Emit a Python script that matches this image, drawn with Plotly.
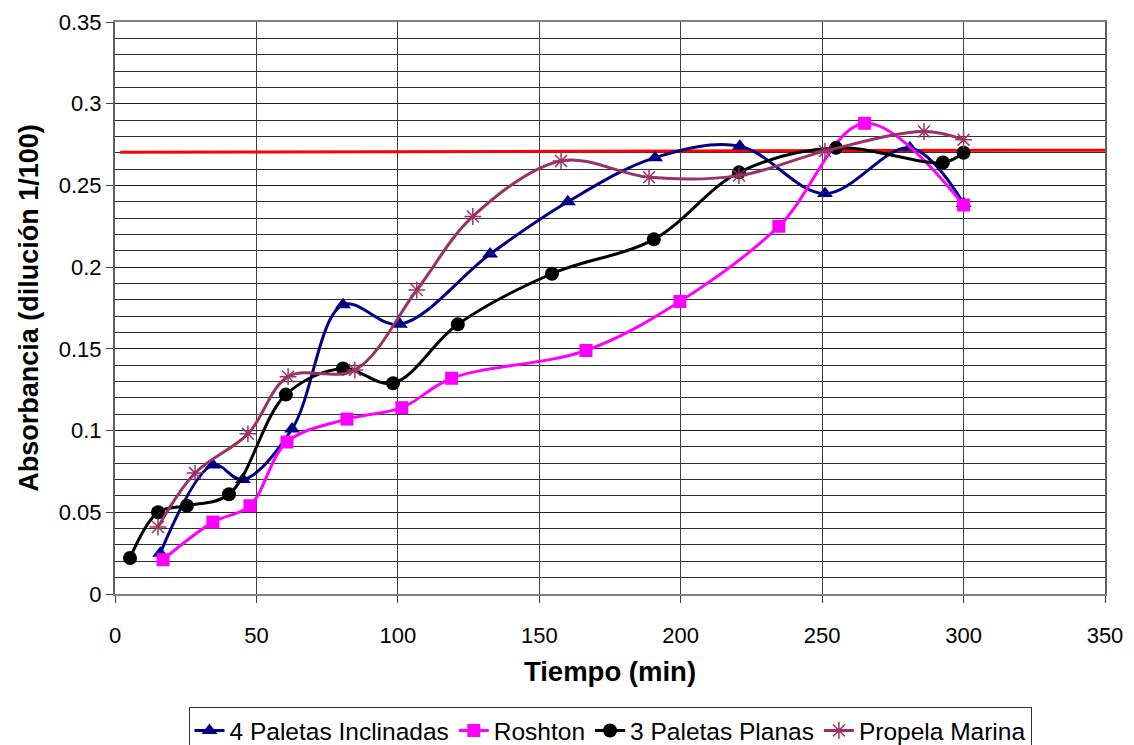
import plotly.graph_objects as go

# Time (min) and absorbance readings for each impeller type
t_inclinadas = [16, 34.6, 45.2, 62.6, 80.6, 100.7, 132.6, 160.1, 190.9, 220.9, 251, 281, 300]
a_inclinadas = [0.025, 0.079, 0.070, 0.101, 0.177, 0.165, 0.208, 0.240, 0.267, 0.274, 0.245, 0.273, 0.239]

t_roshton = [17, 34.6, 47.7, 60.8, 82, 101.4, 119, 166.5, 199.7, 234.7, 265, 300]
a_roshton = [0.021, 0.044, 0.054, 0.093, 0.107, 0.114, 0.132, 0.149, 0.179, 0.225, 0.288, 0.238]

t_planas = [5.3, 15.2, 25.4, 40.3, 60.4, 80.6, 98.3, 121.2, 154.5, 190.5, 220.6, 254.9, 292.7, 300]
a_planas = [0.022, 0.050, 0.054, 0.061, 0.122, 0.138, 0.129, 0.165, 0.196, 0.217, 0.258, 0.273, 0.264, 0.270]

t_marina = [15.2, 28.3, 47, 61.2, 84.8, 106.7, 126.5, 157.7, 188.8, 220.6, 251, 286, 300]
a_marina = [0.041, 0.074, 0.098, 0.133, 0.137, 0.186, 0.231, 0.265, 0.255, 0.256, 0.271, 0.283, 0.278]

# Reference level line
ref_t = [1.8, 350]
ref_a = [0.2703, 0.2716]

x_ticks = [0, 50, 100, 150, 200, 250, 300, 350]
y_ticks = [0, 0.05, 0.1, 0.15, 0.2, 0.25, 0.3, 0.35]

FONT = "Liberation Sans, Arial, sans-serif"

fig = go.Figure()

fig.add_trace(go.Scatter(
    x=ref_t, y=ref_a, mode="lines", showlegend=False,
    line=dict(color="#FF0000", width=3), hoverinfo="skip"))

fig.add_trace(go.Scatter(
    x=t_inclinadas, y=a_inclinadas, name="4 Paletas Inclinadas",
    mode="lines+markers", line=dict(color="#000080", width=3, shape="spline"),
    marker=dict(symbol="triangle-up", size=14, color="#000080")))

fig.add_trace(go.Scatter(
    x=t_roshton, y=a_roshton, name="Roshton",
    mode="lines+markers", line=dict(color="#FF00FF", width=3, shape="spline"),
    marker=dict(symbol="square", size=13, color="#FF00FF")))

fig.add_trace(go.Scatter(
    x=t_planas, y=a_planas, name="3 Paletas Planas",
    mode="lines+markers", line=dict(color="#000000", width=3, shape="spline"),
    marker=dict(symbol="circle", size=14, color="#000000")))

fig.add_trace(go.Scatter(
    x=t_marina, y=a_marina, name="Propela Marina",
    mode="lines+markers", line=dict(color="#993366", width=3, shape="spline"),
    marker=dict(symbol="asterisk-open", size=14, color="#993366",
                line=dict(color="#993366", width=1.5))))

fig.update_layout(
    width=1134, height=745,
    margin=dict(l=115, r=29, t=22, b=151, autoexpand=False),
    paper_bgcolor="white", plot_bgcolor="white",
    font=dict(family=FONT, size=22, color="black"),
    legend=dict(orientation="h", x=0.5, xanchor="center", y=-0.1976, yanchor="top",
                bordercolor="#333333", borderwidth=1, font=dict(size=24.5),
                tracegroupgap=0, itemwidth=30),
)

fig.update_xaxes(
    range=[0, 350], tickvals=x_ticks, ticks="outside", ticklen=7,
    tickcolor="#404040", showgrid=True, gridcolor="#404040", gridwidth=1,
    showline=True, linecolor="#808080", linewidth=2, mirror=True,
    zeroline=False, tickfont=dict(size=22), ticklabelstandoff=14,
    title=dict(text="<b>Tiempo (min)</b>", font=dict(size=27.5), standoff=14))

fig.update_yaxes(
    range=[0, 0.35], tickvals=y_ticks, ticks="outside", ticklen=7,
    tickcolor="#404040", showgrid=True, gridcolor="#202020", gridwidth=1,
    minor=dict(dtick=0.01, showgrid=True, gridcolor="#303030", gridwidth=1, ticks=""),
    showline=True, linecolor="#606060", linewidth=2, mirror=True,
    zeroline=False, tickfont=dict(size=22),
    title=dict(text="<b>Absorbancia (dilución 1/100)</b>", font=dict(size=27), standoff=12))

fig.write_html("out.html")
